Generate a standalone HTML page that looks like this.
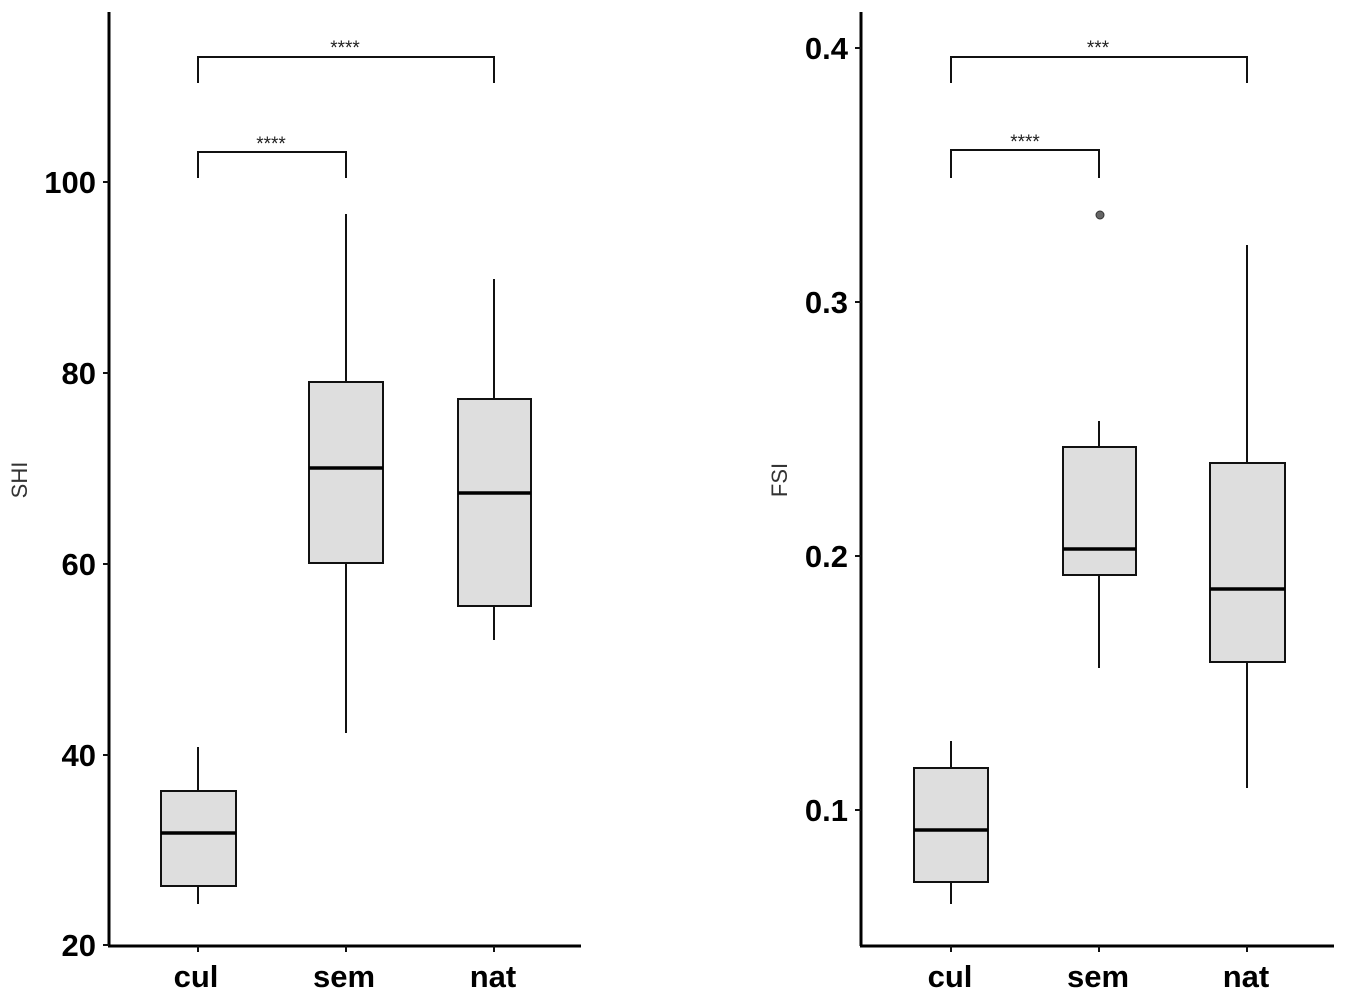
<!DOCTYPE html>
<html><head><meta charset="utf-8"><style>
html,body{margin:0;padding:0;background:#fff;}
svg{display:block;}
text{font-family:"Liberation Sans",Arial,sans-serif;}
.tl{font-weight:bold;font-size:31px;fill:#000;text-anchor:end;}
.xl{font-weight:bold;font-size:31px;fill:#000;text-anchor:middle;}
.st{font-size:19px;fill:#222;text-anchor:middle;}
.ax{font-size:22px;fill:#333;text-anchor:middle;}
.b{fill:#dedede;stroke:#111;stroke-width:2;}
.l{stroke:#111;stroke-width:2;fill:none;}
.m{stroke:#000;stroke-width:3.5;}
.a{stroke:#000;stroke-width:3;fill:none;}
</style></head><body>
<svg width="1355" height="996" viewBox="0 0 1355 996">
<!-- Left panel -->
<line class="a" x1="109" y1="12" x2="109" y2="946"/>
<line class="a" x1="108" y1="946" x2="581" y2="946"/>
<g class="l">
<line x1="103" y1="945" x2="109" y2="945"/><line x1="103" y1="755" x2="109" y2="755"/>
<line x1="103" y1="564" x2="109" y2="564"/><line x1="103" y1="373" x2="109" y2="373"/>
<line x1="103" y1="182" x2="109" y2="182"/>
<line x1="198" y1="946" x2="198" y2="952"/><line x1="346" y1="946" x2="346" y2="952"/><line x1="494" y1="946" x2="494" y2="952"/>
</g>
<text class="tl" x="96" y="956">20</text>
<text class="tl" x="96" y="766">40</text>
<text class="tl" x="96" y="575">60</text>
<text class="tl" x="96" y="384">80</text>
<text class="tl" x="96" y="193">100</text>
<text class="ax" transform="translate(27,480) rotate(-90)">SHI</text>
<line class="l" x1="198" y1="747" x2="198" y2="904"/>
<rect class="b" x="161" y="791" width="75" height="95"/>
<line class="m" x1="161" y1="833" x2="236" y2="833"/>
<line class="l" x1="346" y1="214" x2="346" y2="733"/>
<rect class="b" x="309" y="382" width="74" height="181"/>
<line class="m" x1="309" y1="468" x2="383" y2="468"/>
<line class="l" x1="494" y1="279" x2="494" y2="640"/>
<rect class="b" x="458" y="399" width="73" height="207"/>
<line class="m" x1="458" y1="493" x2="531" y2="493"/>
<polyline class="l" points="198,178 198,152 346,152 346,178"/>
<text class="st" x="271" y="150">****</text>
<polyline class="l" points="198,83 198,57 494,57 494,83"/>
<text class="st" x="345" y="54">****</text>
<text class="xl" x="196" y="987">cul</text>
<text class="xl" x="344" y="987">sem</text>
<text class="xl" x="493" y="987">nat</text>

<!-- Right panel -->
<line class="a" x1="861" y1="12" x2="861" y2="946"/>
<line class="a" x1="860" y1="946" x2="1334" y2="946"/>
<g class="l">
<line x1="855" y1="48" x2="861" y2="48"/><line x1="855" y1="302" x2="861" y2="302"/>
<line x1="855" y1="556" x2="861" y2="556"/><line x1="855" y1="810" x2="861" y2="810"/>
<line x1="951" y1="946" x2="951" y2="952"/><line x1="1099" y1="946" x2="1099" y2="952"/><line x1="1247" y1="946" x2="1247" y2="952"/>
</g>
<text class="tl" x="848" y="59">0.4</text>
<text class="tl" x="848" y="313">0.3</text>
<text class="tl" x="848" y="567">0.2</text>
<text class="tl" x="848" y="821">0.1</text>
<text class="ax" transform="translate(787,480) rotate(-90)">FSI</text>
<line class="l" x1="951" y1="741" x2="951" y2="904"/>
<rect class="b" x="914" y="768" width="74" height="114"/>
<line class="m" x1="914" y1="830" x2="988" y2="830"/>
<circle cx="1100" cy="215" r="4" fill="#666" stroke="#333" stroke-width="1"/>
<line class="l" x1="1099" y1="421" x2="1099" y2="668"/>
<rect class="b" x="1063" y="447" width="73" height="128"/>
<line class="m" x1="1063" y1="549" x2="1136" y2="549"/>
<line class="l" x1="1247" y1="245" x2="1247" y2="788"/>
<rect class="b" x="1210" y="463" width="75" height="199"/>
<line class="m" x1="1210" y1="589" x2="1285" y2="589"/>
<polyline class="l" points="951,178 951,150 1099,150 1099,178"/>
<text class="st" x="1025" y="148">****</text>
<polyline class="l" points="951,83 951,57 1247,57 1247,83"/>
<text class="st" x="1098" y="54">***</text>
<text class="xl" x="950" y="987">cul</text>
<text class="xl" x="1098" y="987">sem</text>
<text class="xl" x="1246" y="987">nat</text>
</svg>
</body></html>
